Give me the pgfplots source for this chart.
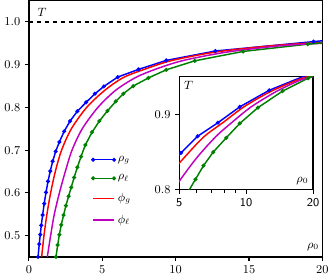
\documentclass[border=0pt]{standalone}
\usepackage{pgfplots}
\pgfplotsset{compat=1.18}
\usepackage{pgfplotstable}

\definecolor{mplblue}{RGB}{0,0,255}
\definecolor{mplgreen}{RGB}{0,128,0}
\definecolor{mplred}{RGB}{255,0,0}
\definecolor{mplmag}{RGB}{191,0,191}

\pgfplotstableread{
x y
0.62 0.450
0.70 0.480
0.77 0.502
0.84 0.524
0.93 0.548
1.04 0.575
1.16 0.601
1.30 0.627
1.45 0.651
1.62 0.674
1.82 0.697
2.07 0.719
2.40 0.744
2.80 0.768
3.30 0.791
3.90 0.812
4.50 0.832
5.10 0.849
6.05 0.871
7.47 0.889
9.36 0.910
12.70 0.932
19.40 0.954
}\bluedata

\pgfplotstableread{
x y
1.84 0.450
1.96 0.478
2.07 0.502
2.20 0.525
2.36 0.548
2.52 0.570
2.70 0.592
2.88 0.613
3.08 0.636
3.30 0.660
3.55 0.685
3.84 0.712
4.30 0.742
4.80 0.768
5.35 0.792
5.92 0.814
6.43 0.832
7.11 0.850
8.14 0.869
9.36 0.888
11.30 0.909
14.60 0.931
19.00 0.948
}\greendata

\pgfplotstableread{
x y
0.864 0.450
1.023 0.500
1.225 0.550
1.478 0.600
1.798 0.650
2.224 0.700
2.890 0.750
3.934 0.800
5.168 0.840
6.440 0.870
7.940 0.890
9.770 0.910
12.810 0.930
16.800 0.945
20.000 0.952
}\reddata

\pgfplotstableread{
x y
1.250 0.450
1.477 0.500
1.728 0.550
2.076 0.600
2.478 0.650
2.935 0.700
3.631 0.750
4.700 0.800
5.905 0.840
7.276 0.870
8.680 0.890
10.540 0.910
13.590 0.930
17.370 0.945
20.000 0.950
}\magdata

\pgfplotsset{
  mystyle/.style={
    scale only axis,
    axis line style={line width=0.9pt},
    tick style={line width=0.8pt, black},
    major tick length=3pt,
    minor tick length=2pt,
    tick align=outside,
    xtick pos=left, ytick pos=left,
    ticklabel style={font=\fontsize{9}{10}\selectfont},
    clip=true,
  },
  bl/.style={mplblue, line width=1.1pt, mark=*, mark size=0.9pt},
  gr/.style={mplgreen, line width=1.1pt, mark=*, mark size=0.9pt},
  rd/.style={mplred, line width=1.1pt, smooth, no markers},
  mg/.style={mplmag, line width=1.1pt, smooth, no markers},
}

\begin{document}
\begin{tikzpicture}
\begin{axis}[mystyle, name=main,
  width=219.75pt, height=192pt,
  xmin=0, xmax=20, ymin=0.45, ymax=1.05,
  xtick={0,5,10,15,20},
  ytick={0.5,0.6,0.7,0.8,0.9,1.0},
  yticklabels={0.5,0.6,0.7,0.8,0.9,1.0},
  legend style={draw=none, fill=none, at={(0.2,0.415)}, anchor=north west,
    font=\fontsize{9}{10}\selectfont, row sep=4.5pt},
  legend cell align=left,
  legend image code/.code={
    \draw[#1,mark=none] (0cm,0cm) -- (0.55cm,0cm);
    \draw[#1,only marks] plot coordinates {(0cm,0cm) (0.55cm,0cm)};
  },
]
\addplot[black, dashed, line width=0.9pt, forget plot] coordinates {(0,1) (20,1)};
\addplot[bl] table[x=x,y=y] {\bluedata};
\addlegendentry{$\rho_g$}
\addplot[gr] table[x=x,y=y] {\greendata};
\addlegendentry{$\rho_\ell$}
\addplot[rd] table[x=x,y=y] {\reddata};
\addlegendentry{$\phi_g$}
\addplot[mg] table[x=x,y=y] {\magdata};
\addlegendentry{$\phi_\ell$}
\addplot[mplblue, line width=1.1pt, forget plot] coordinates {(19.4,0.954) (20,0.956)};
\addplot[mplgreen, line width=1.1pt, forget plot] coordinates {(19.0,0.948) (20,0.951)};
\node[anchor=center, font=\fontsize{9}{10}\selectfont] at (rel axis cs:0.045,0.955) {$T$};
\node[anchor=center, font=\fontsize{9}{10}\selectfont] at (rel axis cs:0.968,0.04) {$\rho_0$};
\end{axis}

\begin{axis}[mystyle,
  at={(main.south west)}, anchor=south west, xshift=112.5pt, yshift=50.25pt,
  width=100.3pt, height=84.75pt,
  axis background/.style={fill=white},
  xmode=log, xmin=5, xmax=20, ymin=0.8, ymax=0.95,
  xtick={5,10,20},
  xticklabels={\textsf{5},\textsf{10},\textsf{20}},
  minor xtick={6,7,8,9},
  ytick={0.8,0.9},
  yticklabels={0.8,0.9},
]
\addplot[bl] table[x=x,y=y] {\bluedata};
\addplot[gr] table[x=x,y=y] {\greendata};
\addplot[rd] table[x=x,y=y] {\reddata};
\addplot[mg] table[x=x,y=y] {\magdata};
\addplot[mplblue, line width=1.1pt] coordinates {(19.4,0.954) (20,0.956)};
\addplot[mplgreen, line width=1.1pt] coordinates {(19.0,0.948) (20,0.951)};
\node[anchor=center, font=\fontsize{9}{10}\selectfont] at (rel axis cs:0.07,0.92) {$T$};
\node[anchor=center, font=\fontsize{9}{10}\selectfont] at (rel axis cs:0.92,0.08) {$\rho_0$};
\end{axis}
\end{tikzpicture}
\end{document}
